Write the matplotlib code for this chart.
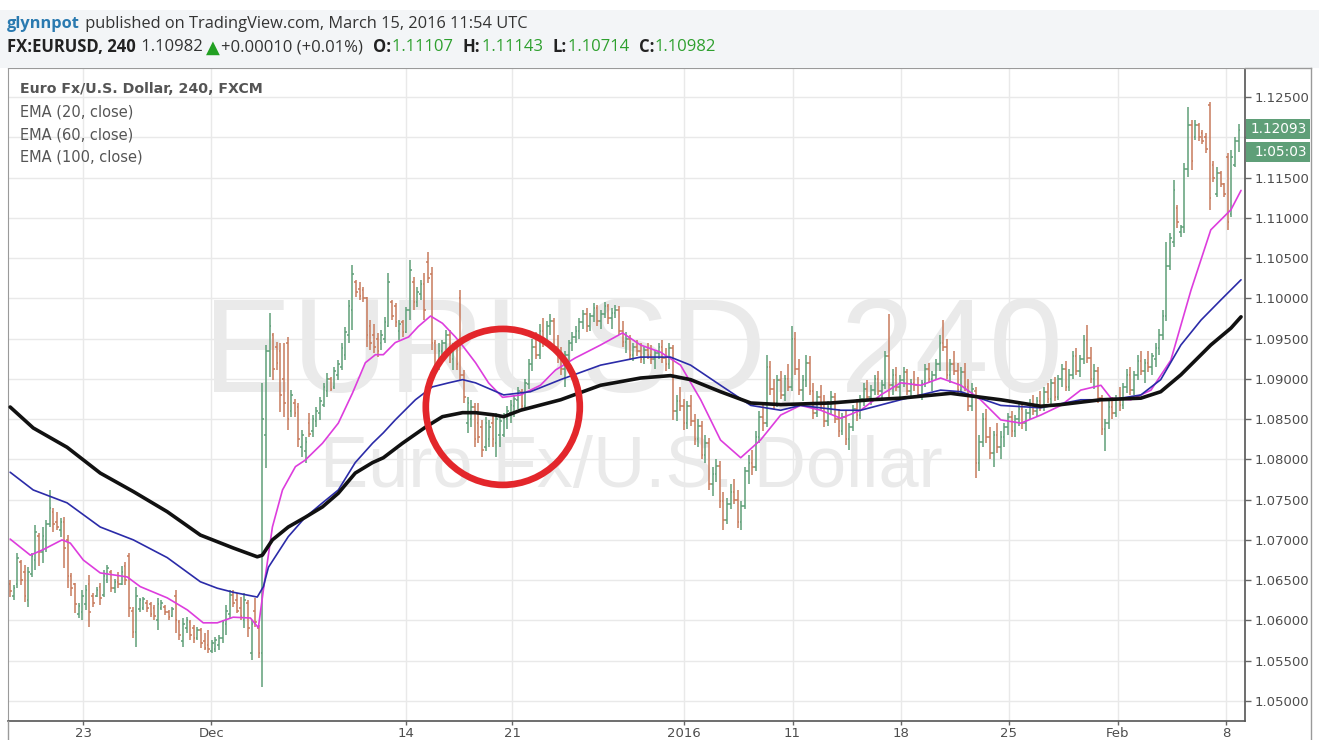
import numpy as np
import matplotlib.pyplot as plt
from matplotlib.patches import Ellipse, Rectangle
from matplotlib.lines import Line2D

# 4h OHLC bars, values in pips above 1.0000 (price = 1 + pips / 10000)
# (open, high, low, close)
bars_nov = [
    (645, 650, 629, 636), (630, 644, 625, 640), (645, 684, 640, 678), (672, 675, 644, 650),
    (660, 669, 623, 630), (625, 666, 617, 660), (658, 684, 654, 680), (675, 719, 663, 710),
    (705, 709, 667, 685), (685, 716, 671, 705), (700, 725, 685, 720), (720, 762, 716, 740),
    (735, 740, 710, 720), (722, 735, 712, 716), (712, 727, 704, 722), (722, 729, 665, 690),
    (700, 706, 640, 655), (655, 659, 630, 640), (645, 647, 609, 620), (608, 622, 603, 618),
    (610, 638, 601, 630), (620, 644, 613, 638), (645, 656, 592, 610), (630, 634, 617, 622),
    (630, 641, 629, 638), (642, 647, 619, 628), (632, 663, 629, 655), (650, 669, 647, 665),
    (660, 663, 635, 640), (640, 652, 634, 648), (648, 660, 640, 645), (645, 668, 644, 660),
    (668, 672, 644, 650), (680, 684, 604, 615), (612, 617, 578, 585), (585, 642, 567, 630),
]
bars_dec1 = [
    (614, 628, 611, 625), (616, 629, 613, 626), (622, 625, 611, 615), (620, 623, 604, 608),
    (615, 619, 601, 606), (600, 628, 588, 620), (615, 625, 613, 622), (617, 619, 607, 610),
    (611, 613, 601, 604), (606, 617, 604, 614), (630, 638, 584, 600), (598, 601, 576, 582),
    (575, 603, 567, 595), (590, 604, 584, 600), (598, 601, 576, 582), (590, 594, 572, 578),
    (578, 592, 576, 588), (588, 591, 566, 572), (575, 584, 563, 566), (570, 588, 560, 564),
    (562, 576, 560, 572), (565, 580, 561, 576), (570, 582, 563, 578), (578, 601, 572, 598),
    (595, 619, 582, 612), (608, 638, 603, 632), (632, 638, 617, 622), (625, 634, 609, 612),
    (615, 629, 601, 606), (600, 634, 591, 625), (622, 625, 579, 590), (560, 601, 551, 595),
    (612, 628, 592, 598), (590, 594, 553, 560),
]
bars_dec2 = [
    (560, 895, 517, 850), (830, 942, 789, 935), (935, 982, 902, 965), (955, 957, 899, 912),
    (940, 946, 911, 920), (935, 945, 859, 880), (900, 944, 852, 870), (945, 952, 837, 850),
    (860, 886, 853, 880), (870, 875, 853, 858), (865, 870, 815, 825), (815, 837, 803, 830),
    (810, 828, 796, 822), (845, 858, 828, 832), (835, 855, 828, 850), (848, 865, 840, 860),
    (858, 877, 849, 872), (868, 895, 865, 890), (885, 907, 877, 900), (900, 902, 885, 888),
    (890, 915, 888, 910), (905, 923, 899, 918), (915, 945, 911, 938), (930, 964, 923, 958),
    (955, 998, 945, 990), (985, 1041, 961, 1030), (1020, 1023, 1002, 1008), (1012, 1020, 998, 1003),
    (1010, 1014, 996, 1000), (1000, 1002, 940, 955), (965, 973, 936, 945), (955, 968, 932, 940),
    (950, 957, 927, 935),
]
bars_dec3 = [
    (945, 961, 936, 955), (950, 977, 945, 970), (965, 1031, 964, 1020), (995, 998, 973, 978),
    (990, 994, 964, 970), (960, 973, 948, 968), (970, 973, 952, 958), (958, 989, 957, 985),
    (985, 1048, 973, 1035), (1020, 1027, 986, 995), (995, 1014, 989, 1008), (1005, 1023, 998, 1018),
    (1018, 1031, 973, 985), (1045, 1058, 1019, 1025), (1030, 1039, 936, 945), (945, 948, 907, 915),
    (915, 945, 911, 935), (935, 948, 923, 945), (945, 961, 936, 955), (955, 961, 920, 930),
    (925, 945, 911, 940), (940, 945, 911, 918), (1000, 1010, 899, 905), (905, 911, 870, 878),
    (845, 877, 833, 870), (850, 874, 840, 865), (865, 870, 815, 825), (845, 870, 820, 828),
    (840, 849, 803, 812), (815, 853, 810, 845), (825, 849, 815, 840), (845, 858, 815, 825),
    (820, 858, 803, 850), (830, 853, 815, 848), (830, 858, 828, 855),
]
bars_dec4 = [
    (850, 866, 838, 860), (858, 874, 845, 868), (866, 880, 852, 875), (874, 890, 862, 885),
    (884, 888, 860, 866), (866, 900, 862, 895), (894, 925, 888, 918), (918, 950, 910, 940),
    (940, 958, 925, 930), (930, 968, 925, 960), (960, 975, 940, 948), (948, 972, 942, 965),
    (965, 980, 955, 972), (972, 976, 935, 940), (940, 955, 920, 928), (928, 940, 905, 912),
    (912, 935, 890, 930), (930, 948, 922, 944), (944, 958, 935, 952), (952, 966, 945, 960),
    (960, 975, 950, 970), (970, 985, 962, 980), (980, 988, 958, 965), (965, 982, 960, 978),
    (978, 994, 970, 988), (988, 992, 965, 972), (972, 985, 962, 980), (980, 995, 975, 990),
    (990, 993, 968, 975), (975, 988, 962, 982), (982, 992, 975, 986), (986, 990, 955, 960),
    (960, 972, 940, 946), (946, 958, 932, 950), (950, 955, 925, 930), (930, 945, 922, 940),
    (940, 948, 928, 935), (935, 945, 920, 925), (925, 940, 918, 936), (936, 944, 925, 930),
]
bars_jan1 = [
    (930, 942, 918, 925), (925, 936, 912, 932), (932, 945, 925, 940), (940, 948, 920, 926),
    (926, 938, 910, 918), (918, 945, 912, 938), (938, 942, 849, 860), (860, 880, 848, 872),
    (872, 890, 860, 866), (866, 875, 836, 845), (845, 872, 838, 866), (866, 880, 842, 848),
    (848, 856, 818, 825), (825, 850, 815, 842), (842, 848, 800, 806), (806, 830, 795, 820),
    (820, 826, 762, 770), (770, 790, 755, 782), (782, 800, 772, 792), (792, 798, 740, 748),
    (748, 760, 712, 725), (725, 752, 720, 745), (745, 770, 738, 760), (760, 775, 745, 750),
    (750, 762, 715, 722), (722, 748, 712, 742), (742, 790, 738, 785), (785, 805, 770, 795),
    (795, 812, 780, 790), (790, 835, 785, 828), (828, 860, 820, 852), (852, 868, 835, 845),
    (845, 930, 840, 915), (915, 922, 880, 888), (888, 900, 862, 870), (870, 905, 865, 898),
    (898, 910, 875, 880), (880, 905, 872, 900), (900, 918, 885, 890), (890, 965, 885, 950),
]
bars_jan2 = [
    (950, 958, 905, 912), (912, 925, 880, 886), (886, 905, 872, 898), (898, 930, 890, 920),
    (920, 928, 880, 885), (885, 895, 850, 858), (858, 885, 852, 878), (878, 892, 860, 866),
    (866, 880, 840, 848), (848, 872, 842, 865), (865, 885, 855, 878), (878, 882, 845, 850),
    (850, 862, 828, 835), (835, 858, 830, 852), (852, 860, 818, 825), (825, 845, 812, 840),
    (840, 868, 835, 862), (862, 875, 848, 855), (855, 880, 850, 875), (875, 895, 866, 888),
    (888, 898, 872, 878), (878, 892, 868, 886), (886, 905, 880, 900), (900, 910, 880, 885),
    (885, 898, 872, 892), (892, 935, 888, 928), (928, 981, 875, 892), (892, 912, 880, 905),
    (905, 915, 885, 890), (890, 905, 878, 898), (898, 915, 890, 908), (908, 912, 880, 885),
    (885, 900, 878, 895), (895, 910, 885, 892), (892, 902, 876, 880), (880, 898, 874, 895),
    (895, 918, 890, 912), (912, 920, 895, 900), (900, 910, 885, 905), (905, 925, 898, 918),
    (918, 955, 910, 945), (945, 973, 935, 940), (940, 950, 900, 905), (905, 925, 895, 918),
    (918, 935, 905, 910), (910, 920, 880, 886), (886, 915, 880, 908), (908, 920, 885, 890),
    (890, 900, 860, 866), (866, 895, 860, 888),
]
bars_jan3 = [
    (885, 890, 777, 795), (795, 830, 785, 822), (822, 858, 815, 850), (850, 862, 820, 828),
    (828, 840, 800, 808), (808, 835, 790, 830), (830, 845, 808, 815), (815, 835, 800, 828),
    (828, 845, 815, 840), (840, 858, 830, 852), (852, 860, 828, 835), (835, 855, 828, 850),
    (850, 870, 842, 862), (862, 868, 838, 845), (845, 862, 835, 858), (858, 875, 850, 868),
    (868, 880, 855, 860), (860, 878, 852, 872), (872, 885, 860, 865), (865, 890, 860, 884),
    (884, 895, 870, 875), (875, 900, 868, 895), (895, 902, 872, 878), (878, 905, 874, 900),
    (900, 918, 890, 912), (912, 922, 885, 890), (890, 912, 885, 905), (905, 935, 900, 928),
    (928, 938, 905, 910), (910, 930, 902, 925), (925, 955, 918, 948), (948, 967, 920, 926),
    (926, 940, 895, 900), (900, 918, 888, 910), (910, 915, 870, 876), (876, 880, 830, 838),
    (838, 850, 810, 845), (845, 872, 838, 865), (865, 878, 850, 858), (858, 880, 852, 875),
]
bars_feb = [
    (875, 890, 860, 868), (868, 895, 862, 890), (890, 912, 882, 905), (905, 915, 880, 886),
    (886, 910, 880, 905), (905, 930, 898, 922), (922, 935, 905, 910), (910, 925, 895, 920),
    (920, 935, 908, 915), (915, 932, 905, 928), (925, 945, 915, 938), (938, 962, 930, 955),
    (955, 985, 948, 978), (978, 1070, 972, 1040), (1040, 1081, 1035, 1075), (1070, 1147, 1064, 1135),
    (1112, 1116, 1087, 1095), (1082, 1091, 1076, 1088), (1088, 1168, 1081, 1160),
    (1160, 1238, 1151, 1215), (1215, 1221, 1159, 1170), (1200, 1221, 1197, 1215),
    (1215, 1218, 1195, 1200), (1205, 1209, 1192, 1195), (1200, 1205, 1180, 1185),
    (1240, 1244, 1110, 1125), (1165, 1170, 1145, 1150), (1130, 1163, 1126, 1155),
    (1155, 1158, 1138, 1142), (1142, 1143, 1126, 1130), (1175, 1180, 1085, 1095),
    (1105, 1184, 1101, 1175), (1165, 1200, 1163, 1195), (1195, 1217, 1182, 1209),
]

# EMA curves: (bar index, pips)
ema20_pts = [
    (0, 701), (5.6, 681), (9.2, 688), (14.4, 700), (16.7, 696), (20.3, 675), (25, 659),
    (32.5, 654), (36.1, 642), (43.6, 628), (49.2, 613), (53.6, 597), (57.5, 597), (61.9, 604),
    (66.7, 603), (68.9, 591), (70.3, 638), (72.8, 716), (75.6, 762), (79.2, 791), (81.9, 799),
    (86.7, 820), (91.1, 845), (95, 882), (98.6, 920), (101.4, 930), (103.6, 930), (106.9, 945),
    (110.6, 952), (113.3, 965), (116.7, 978), (120, 969), (123.6, 952), (125.8, 940),
    (129.2, 920), (132.8, 895), (136.7, 877), (141.7, 880), (147.2, 892), (151.4, 911),
    (156.9, 926), (163.9, 942), (170, 957), (175, 942), (180.6, 933), (186.1, 917),
    (191.7, 874), (197.2, 824), (202.8, 802), (208.3, 824), (213.9, 855), (219.4, 867),
    (225, 861), (230.6, 851), (236.1, 861), (241.7, 880), (247.2, 895), (252.8, 892),
    (258.3, 901), (263.9, 892), (269.4, 874), (275, 849), (280.6, 845), (286.1, 855),
    (291.7, 867), (297.2, 886), (302.8, 892), (305.6, 876), (311.1, 874), (316.7, 886),
    (322.2, 923), (327.8, 1010), (333.3, 1085), (338.9, 1110), (341.7, 1134),
]
ema60_pts = [
    (0, 784), (6.4, 762), (15.8, 746), (25, 716), (34.2, 700), (43.6, 678), (52.8, 648),
    (57.5, 640), (61.9, 635), (68.6, 629), (70.3, 642), (71.7, 666), (77.2, 704), (81.9, 728),
    (86.7, 746), (91.1, 762), (95.8, 796), (100.6, 820), (103.6, 833), (106.9, 849),
    (112.5, 874), (117.2, 890), (121.7, 895), (125.6, 899), (129.2, 895), (133.9, 886),
    (137, 880), (144.4, 884), (152.8, 899), (163.9, 917), (175, 927), (183.3, 927),
    (188.9, 917), (197.2, 892), (205.6, 867), (213.9, 861), (219.4, 867), (230.6, 861),
    (236.1, 861), (247.2, 874), (258.3, 886), (263.9, 884), (275, 867), (286.1, 864),
    (297.2, 874), (305.6, 874), (313.9, 880), (319.4, 899), (325, 942), (330.6, 973),
    (336.1, 998), (341.7, 1023),
]
ema100_pts = [
    (0, 865), (6.4, 839), (15.8, 815), (25, 783), (34.2, 760), (43.6, 735), (52.8, 706),
    (61.9, 690), (68.6, 679), (70, 681), (72.8, 700), (77.2, 716), (81.9, 728), (86.7, 741),
    (91.1, 758), (95.8, 783), (100.6, 796), (103.6, 802), (108.9, 820), (115.3, 840),
    (120, 853), (125.6, 858), (129.2, 858), (134.7, 855), (137, 853), (141.7, 861),
    (152.8, 874), (163.9, 892), (175, 901), (183.3, 904), (188.9, 899), (197.2, 884),
    (205.6, 870), (213.9, 868), (227.8, 870), (238.9, 874), (247.2, 876), (261.1, 882),
    (275, 874), (286.1, 866), (291.7, 868), (302.8, 874), (313.9, 876), (319.4, 884),
    (325, 905), (333.3, 942), (338.9, 963), (341.7, 977),
]

date_labels = ['23', 'Dec', '14', '21', '2016', '11', '18', '25', 'Feb', '8']
date_bar_idx = [20.3, 55.8, 110, 139.4, 187, 217.2, 247.2, 277.2, 307.5, 337.5]
price_ticks = [1.050, 1.055, 1.060, 1.065, 1.070, 1.075, 1.080, 1.085, 1.090,
               1.095, 1.100, 1.105, 1.110, 1.115, 1.120, 1.125]
last_price = 1.12093
countdown = '1:05:03'

GREEN = '#5f9f78'
RED = '#c77a5c'
W, H = 1319, 740


def px(x, y):
    return x / W, 1 - y / H


def to_price(p):
    return 1 + np.asarray(p, dtype=float) / 10000


bars = np.array(bars_nov + bars_dec1 + bars_dec2 + bars_dec3 + bars_dec4
                + bars_jan1 + bars_jan2 + bars_jan3 + bars_feb, dtype=float)
o, h, l, c = [to_price(bars[:, k]) for k in range(4)]
idx = np.arange(len(bars))
up = c >= o

fig = plt.figure(figsize=(W / 100, H / 100), dpi=100)
fig.patch.set_facecolor('white')
fig.patches.append(Rectangle(px(0, 68), 1, 58 / H, transform=fig.transFigure,
                             facecolor='#f3f5f7', edgecolor='none', zorder=0))

ax = fig.add_axes([8 / W, 1 - 721 / H, (1245 - 8) / W, (721 - 68) / H])
ax.set_xlim(-0.6, 342.8)
ax.set_ylim(1.04751, 1.12860)

# grid
for t in price_ticks:
    ax.axhline(t, color='#e9e9e9', lw=1, zorder=0)
for d in date_bar_idx:
    ax.axvline(d, color='#e9e9e9', lw=1, zorder=0)

# watermark
ax.text(0.505, 0.556, 'EURUSD, 240', transform=ax.transAxes, ha='center', va='center',
        fontsize=96, color='#eaeaea', family='Liberation Sans', zorder=1)
ax.text(0.504, 0.386, 'Euro Fx/U.S. Dollar', transform=ax.transAxes, ha='center', va='center',
        fontsize=52, color='#eaeaea', family='Liberation Sans', zorder=1)

# OHLC bars
for mask, col in ((up, GREEN), (~up, RED)):
    ax.vlines(idx[mask], l[mask], h[mask], color=col, lw=1.1, zorder=3)
    ax.hlines(o[mask], idx[mask] - 0.45, idx[mask], color=col, lw=1.1, zorder=3)
    ax.hlines(c[mask], idx[mask], idx[mask] + 0.45, color=col, lw=1.1, zorder=3)

# EMAs
for pts, col, lw in ((ema20_pts, '#dd3ddd', 1.2), (ema60_pts, '#2b2ba8', 1.2),
                     (ema100_pts, '#111111', 2.6)):
    arr = np.array(pts)
    ax.plot(arr[:, 0], to_price(arr[:, 1]), color=col, lw=lw, zorder=4,
            solid_joinstyle='round', solid_capstyle='round')

# red circle
ax.add_patch(Ellipse((0.4, 0.481), 154 / 1237, 156 / 653, transform=ax.transAxes,
                     fill=False, edgecolor='#e3262b', lw=4.8, zorder=6))

# axes styling
for s in ('top', 'left'):
    ax.spines[s].set_color('#9a9a9a')
for s in ('right', 'bottom'):
    ax.spines[s].set_color('#555555')
    ax.spines[s].set_linewidth(1.2)
ax.yaxis.tick_right()
ax.set_yticks(price_ticks)
# the 1.12000 label sits under the last-price tag
ax.set_yticklabels(['' if abs(t - 1.12) < 1e-9 else '%.5f' % t for t in price_ticks])
ax.set_xticks(date_bar_idx)
ax.set_xticklabels(date_labels)
ax.tick_params(axis='both', labelsize=9.5, labelcolor='#4d4d4d', color='#666666',
               length=4, width=1, pad=3)
ax.tick_params(axis='x', length=3, pad=1)

# legend text
ax.text(12 / 1237, 1 - 21 / 653, 'Euro Fx/U.S. Dollar, 240, FXCM', transform=ax.transAxes,
        fontsize=10.2, fontweight='bold', color='#555555', va='center', zorder=7)
for k, lab in enumerate(['EMA (20, close)', 'EMA (60, close)', 'EMA (100, close)']):
    ax.text(12 / 1237, 1 - (44 + 22.5 * k) / 653, lab, transform=ax.transAxes,
            fontsize=10.5, color='#555555', va='center', zorder=7)

# last price / countdown tags
for yy, txt in ((129, '%.5f' % last_price), (152, countdown)):
    fig.patches.append(Rectangle(px(1246, yy + 10), 64 / W, 20 / H, transform=fig.transFigure,
                                 facecolor=GREEN, edgecolor='none', zorder=5))
    fig.text(*px(1307, yy), txt, ha='right', va='center', fontsize=9.8,
             color='white', zorder=6)

# outer frame of the right panel
fig.add_artist(Line2D([1311 / W, 1311 / W], [0, 1 - 68 / H], color='#9a9a9a', lw=1))
fig.add_artist(Line2D([1245 / W, 1311 / W], [1 - 68 / H, 1 - 68 / H], color='#9a9a9a', lw=1))
fig.add_artist(Line2D([8 / W, 8 / W], [0, 1 - 721 / H], color='#9a9a9a', lw=1))

# header, pieces laid one after another
renderer = fig.canvas.get_renderer()


def chain(x, y, parts, size=12):
    for txt, col, wt in parts:
        if txt == '\u25B2':
            t = fig.text(*px(x + 2, y + 1), txt, color=col, va='center', fontsize=13,
                         family='DejaVu Sans')
            x = t.get_window_extent(renderer).x1 + 2
            continue
        t = fig.text(*px(x, y), txt, color=col, fontweight=wt, va='center',
                     fontsize=size, family='Open Sans')
        x = t.get_window_extent(renderer).x1 + 1


chain(7, 24, [('glynnpot', '#2a7ab0', 'bold'),
              (' published on TradingView.com, March 15, 2016 11:54 UTC', '#333333', 'normal')],
      size=11.8)
chain(7, 47, [('FX:EURUSD, 240', '#222222', 'bold'), (' 1.10982', '#333333', 'normal'),
              ('\u25B2', '#22a022', 'normal'), ('+0.00010 (+0.01%)  ', '#333333', 'normal'),
              ('O:', '#222222', 'bold'), ('1.11107  ', '#2ea02e', 'normal'),
              ('H:', '#222222', 'bold'), ('1.11143  ', '#2ea02e', 'normal'),
              ('L:', '#222222', 'bold'), ('1.10714  ', '#2ea02e', 'normal'),
              ('C:', '#222222', 'bold'), ('1.10982', '#2ea02e', 'normal')])

fig.savefig('out.png', dpi=100, facecolor=fig.get_facecolor())
